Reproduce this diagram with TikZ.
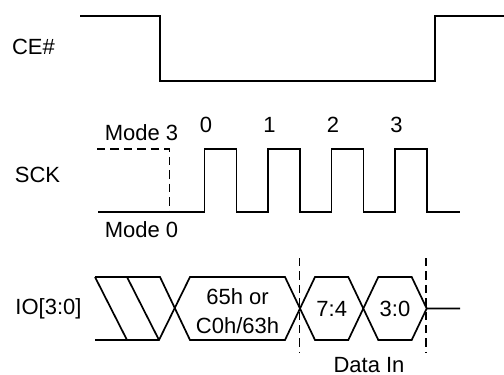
\documentclass[tikz,border=0pt]{standalone}
\usepackage{fontspec}
\setmainfont{Liberation Sans}
\usetikzlibrary{positioning}
\begin{document}
\begin{tikzpicture}[x=0.5pt,y=-0.5pt,line width=0.85pt]
                    \tikzstyle{every node}+=[inner sep=0pt,font=\fontsize{11}{14.2}\selectfont]
                    \tikzstyle{wave}=[black,line join=miter]
                    \tikzstyle{markline}=[black,dash pattern=on 4.2pt off 2.5pt]
                    \useasboundingbox (0,0) rectangle (504,375);
                    % CE#
                    \draw (33.5,47) node (celabel) {CE\#};
                    \draw [wave] (80,16) -- (160,16) -- (160,81) -- (435,81) -- (435,16) -- (504,16);
                    % SCK
                    \draw (37.5,175) node (scklabel) {SCK};
                    \draw (141.5,133) node (modethree) {Mode 3};
                    \draw (141.5,230) node (modezero) {Mode 0};
                    \draw [markline] (97,149) -- (169.5,149) -- (169.5,212);
                    \draw [wave] (98,212) foreach \n in {0,...,3} {
                        -- ({204.5+63.5*\n},212) -- ++(0,-63) -- ++(32,0) -- ++(0,63)} -- (459.5,212);
                    \foreach \n in {0,...,3}
                        \draw ({206+63.5*\n},125) node (clk\n) {\n};
                    % IO[3:0]
                    \draw (48.5,308.5) node (iolabel) {IO[3:0]};
                    \draw [wave] (95,277) -- (127,340);
                    \draw [wave] (127,277) -- (159,340);
                    \draw [wave] (95,277) -- (160,277) -- (190,340) -- (285,340) -- (315,277) -- (348.3,277)
                        -- (378.3,340) -- (411.7,340) -- (426.7,308.5) -- (460,308.5);
                    \draw [wave] (95,340) -- (159,340) -- (190,277) -- (285,277) -- (315,340) -- (348.3,340)
                        -- (378.3,277) -- (411.7,277) -- (426.7,308.5);
                    \draw (237.5,311) node [align=center] (opcode) {65h or\\C0h/63h};
                    \draw (331.7,308.5) node (hinib) {7:4};
                    \draw (395,308.5) node (lonib) {3:0};
                    \draw [markline] (299.5,258) -- (299.5,352);
                    \draw [markline] (426,258) -- (426,352);
                    \draw (369,365) node (datain) {Data In};
                \end{tikzpicture}
\end{document}
